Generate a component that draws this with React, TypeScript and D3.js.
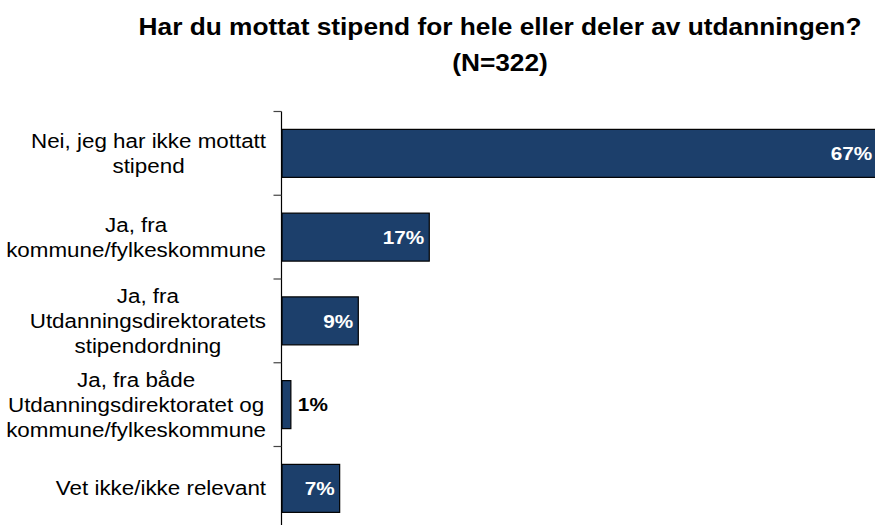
import React from "react";
import * as d3 from "d3";

const titleLines = ["Har du mottat stipend for hele eller deler av utdanningen?", "(N=322)"];
const categories = [
  "Nei, jeg har ikke mottatt stipend",
  "Ja, fra kommune/fylkeskommune",
  "Ja, fra Utdanningsdirektoratets stipendordning",
  "Ja, fra både Utdanningsdirektoratet og kommune/fylkeskommune",
  "Vet ikke/ikke relevant",
];
const categoryLines = [
  ["Nei, jeg har ikke mottatt", "stipend"],
  ["Ja, fra", "kommune/fylkeskommune"],
  ["Ja, fra", "Utdanningsdirektoratets", "stipendordning"],
  ["Ja, fra både", "Utdanningsdirektoratet og", "kommune/fylkeskommune"],
  ["Vet ikke/ikke relevant"],
];
const values = [67.1, 16.6, 8.6, 1.0, 6.5];

const W = 875;
const H = 525;
const FONT = '"Liberation Sans", Arial, sans-serif';
const LABEL_FS = 19.3;
const LABEL_SX = 1.16;
const TITLE_FS = 23.7;
const TITLE_SX = 1.11;
const VAL_FS = 18.5;
const VAL_SX = 1.12;

let ctx: CanvasRenderingContext2D | null = null;
function measure(text: string, font: string) {
  if (!ctx) ctx = document.createElement("canvas").getContext("2d");
  if (!ctx) return text.length * 10;
  ctx.font = font;
  return ctx.measureText(text).width;
}

export default function App() {
  const x = d3.scaleLinear().domain([0, 70]).range([282, 282 + 621]);
  const y = d3
    .scaleBand<string>()
    .domain(categories)
    .range([111.5, 111.5 + 5 * 83.75])
    .paddingInner(0.427)
    .paddingOuter(0.2135);
  const step = y.step();
  const axisX = 281.5;
  const tickYs = d3.range(categories.length + 1).map((i) => 111.5 + i * step);
  const labelRight = 266;
  const lineGap = 25;

  return (
    <svg
      width={W}
      height={H}
      style={{ position: "absolute", left: 0, top: 0, background: "#fff" }}
      fontFamily={FONT}
    >
      {titleLines.map((t, i) => (
        <text
          key={i}
          transform={`translate(500,${35 + i * 36}) scale(${TITLE_SX},1)`}
          textAnchor="middle"
          fontWeight="bold"
          fontSize={TITLE_FS}
          fill="#000"
        >
          {t}
        </text>
      ))}

      {categories.map((c, i) => {
        const yy = y(c)!;
        const v = values[i];
        const x1 = x(v);
        const inside = x1 - x(0) > 40;
        const cy = yy + y.bandwidth() / 2;
        return (
          <g key={c}>
            <rect
              x={x(0)}
              y={yy}
              width={x1 - x(0)}
              height={y.bandwidth()}
              fill="#1c3f6b"
              stroke="#000"
              strokeWidth={1.2}
            />
            <text
              transform={`translate(${inside ? x1 - 5 : x1 + 7},${cy + VAL_FS * 0.36}) scale(${VAL_SX},1)`}
              textAnchor={inside ? "end" : "start"}
              fontWeight="bold"
              fontSize={VAL_FS}
              fill={inside ? "#fff" : "#000"}
            >
              {Math.round(v) + "%"}
            </text>
          </g>
        );
      })}

      <line x1={axisX} x2={axisX} y1={tickYs[0]} y2={H + 10} stroke="#000" strokeWidth={1.2} />
      {tickYs.map((t, i) => (
        <line key={i} x1={axisX - 8} x2={axisX} y1={t} y2={t} stroke="#444" strokeWidth={1.2} />
      ))}

      {categories.map((c, i) => {
        const lines = categoryLines[i];
        const cy = y(c)! + y.bandwidth() / 2;
        const font = `${LABEL_FS}px ${FONT}`;
        const maxW = Math.max(...lines.map((l) => measure(l, font))) * LABEL_SX;
        const cx = labelRight - maxW / 2;
        const n = lines.length;
        return (
          <g key={c}>
            {lines.map((l, j) => {
              const ly = cy + (j - (n - 1) / 2) * lineGap + LABEL_FS * 0.36;
              return (
                <text
                  key={j}
                  transform={`translate(${cx},${ly}) scale(${LABEL_SX},1)`}
                  textAnchor="middle"
                  fontSize={LABEL_FS}
                  fill="#000"
                >
                  {l}
                </text>
              );
            })}
          </g>
        );
      })}
    </svg>
  );
}
